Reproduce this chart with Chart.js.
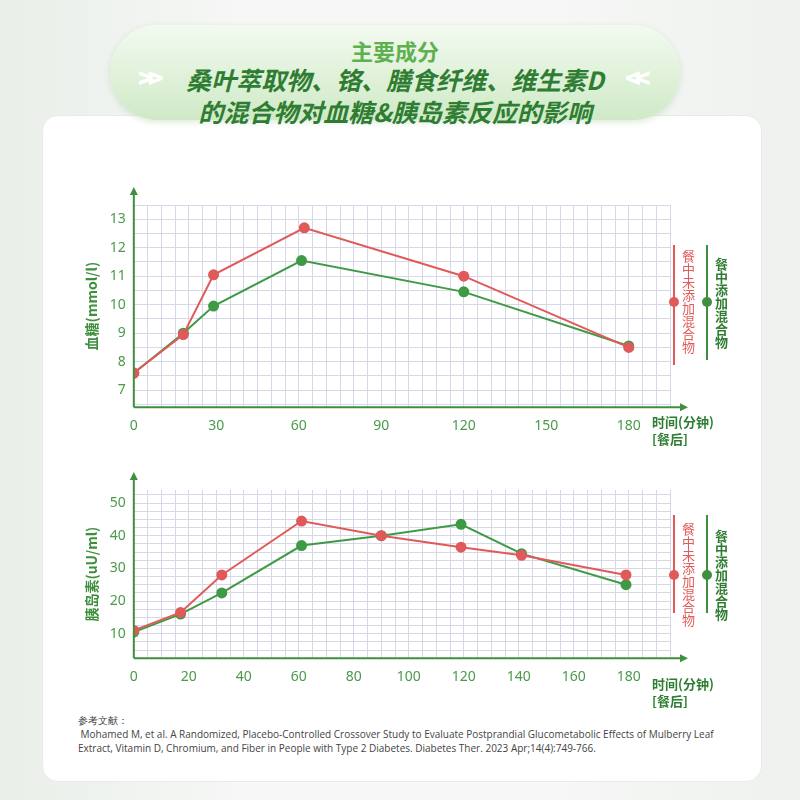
<!DOCTYPE html>
<html><head><meta charset="utf-8">
<script src="https://cdn.jsdelivr.net/npm/chart.js@4"></script>
<style>
body{margin:0;width:800px;height:800px;overflow:hidden;font-family:"Noto Sans CJK SC","Noto Sans",sans-serif;
 background:linear-gradient(90deg,#e9efe9 0%,#f6f7f6 30%,#f6f7f6 70%,#eef1ee 100%);position:relative}
.card{position:absolute;left:42px;top:115px;width:718px;height:665px;background:#fff;border-radius:16px;border:1px solid #e8ece8}
.head{position:absolute;left:110px;top:25px;width:570px;height:95px;border-radius:48px;
 background:linear-gradient(180deg,#f3faf0 0%,#cfeac6 100%);box-shadow:0 2px 6px rgba(120,170,110,.25);text-align:center}
.head .t1{color:#5fb14f;font-size:22px;font-weight:700;margin-top:12px;line-height:26px}
.head .t2{color:#2e7d32;font-size:25px;font-weight:700;font-style:italic;line-height:32px}
.chev{position:absolute;top:58px;color:#fff;font-size:26px;font-weight:900;letter-spacing:-6px}
canvas{position:absolute}
.leg{position:absolute;writing-mode:vertical-rl;font-size:13px;line-height:14px}
.bar{position:absolute;width:2px}
.dot{position:absolute;width:10px;height:10px;border-radius:5px}
.xt{position:absolute;color:#2e7d32;font-size:13px;font-weight:700;line-height:17px}
.ref{position:absolute;left:78px;top:713px;width:660px;font-size:10px;color:#444;line-height:14px;font-family:"Open Sans",sans-serif}
</style></head><body>
<div class="card"></div>
<div class="head"><div class="t1">主要成分</div><div class="t2">桑叶萃取物、铬、膳食纤维、维生素D<br>的混合物对血糖&amp;胰岛素反应的影响</div></div>
<div class="chev" style="left:138px">&gt;&gt;</div><div class="chev" style="left:625px">&lt;&lt;</div>
<canvas id="c1"></canvas><canvas id="c2"></canvas>
<div class="xt" style="left:652px;top:413px">时间(分钟)<br>[餐后]</div>
<div class="xt" style="left:652px;top:675px">时间(分钟)<br>[餐后]</div>

<div class="bar" style="left:673px;top:245px;height:120px;background:#e05a5a"></div>
<div class="dot" style="left:669px;top:297px;background:#e05a5a"></div>
<div class="leg" style="left:681px;top:250px;color:#e05a5a">餐中未添加混合物</div>
<div class="bar" style="left:706px;top:245px;height:115px;background:#3f8f3f"></div>
<div class="dot" style="left:702px;top:297px;background:#3f8f3f"></div>
<div class="leg" style="left:714px;top:258px;color:#2e7d32;font-weight:700">餐中添加混合物</div>

<div class="bar" style="left:673px;top:515px;height:98px;background:#e05a5a"></div>
<div class="dot" style="left:669px;top:570px;background:#e05a5a"></div>
<div class="leg" style="left:681px;top:523px;color:#e05a5a">餐中未添加混合物</div>
<div class="bar" style="left:706px;top:515px;height:98px;background:#3f8f3f"></div>
<div class="dot" style="left:702px;top:570px;background:#3f8f3f"></div>
<div class="leg" style="left:714px;top:530px;color:#2e7d32;font-weight:700">餐中添加混合物</div>

<div class="ref">参考文献：<br>&nbsp;Mohamed M, et al. A Randomized, Placebo-Controlled Crossover Study to Evaluate Postprandial Glucometabolic Effects of Mulberry Leaf Extract, Vitamin D, Chromium, and Fiber in People with Type 2 Diabetes. Diabetes Ther. 2023 Apr;14(4):749-766.</div>
<script>
// blood glucose
var glucoseRedX = [0, 18, 29, 62, 120, 180];
var glucoseRed = [7.6, 8.95, 11.05, 12.7, 11.0, 8.5];
var glucoseGreenX = [0, 18, 29, 61, 120, 180];
var glucoseGreen = [7.6, 9.0, 9.95, 11.55, 10.45, 8.55];
var glucoseTicks = [7, 8, 9, 10, 11, 12, 13];
var glucoseXTicks = [0, 30, 60, 90, 120, 150, 180];
// insulin
var insulinRedX = [0, 17, 32, 61, 90, 119, 141, 179];
var insulinRed = [11, 16.5, 28, 44.5, 40, 36.5, 34, 28];
var insulinGreenX = [0, 17, 32, 61, 90, 119, 141, 179];
var insulinGreen = [10.5, 16, 22.5, 37, 40, 43.5, 34.5, 25];
var insulinTicks = [10, 20, 30, 40, 50];
var insulinXTicks = [0, 20, 40, 60, 80, 100, 120, 140, 160, 180];

var RED = '#e05a5a', GREEN = '#3f9a45', AX = '#3f8f3f', TXT = '#4a9a4a';

function pts(xs, ys) { return xs.map(function(x, i) { return {x: x, y: ys[i]}; }); }

var arrows = {
  id: 'arrows',
  afterDraw: function(ch) {
    var c = ch.ctx, a = ch.chartArea;
    c.save(); c.strokeStyle = AX; c.fillStyle = AX; c.lineWidth = 2;
    c.beginPath(); c.moveTo(a.left, a.bottom); c.lineTo(a.left, a.top - 12);
    c.moveTo(a.left, a.bottom); c.lineTo(a.right + 12, a.bottom); c.stroke();
    c.beginPath(); c.moveTo(a.left - 4, a.top - 10); c.lineTo(a.left, a.top - 18); c.lineTo(a.left + 4, a.top - 10); c.fill();
    c.beginPath(); c.moveTo(a.right + 10, a.bottom - 4); c.lineTo(a.right + 18, a.bottom); c.lineTo(a.right + 10, a.bottom + 4); c.fill();
    c.restore();
  }
};

function make(id, box, ds, xmin, xmax, ymin, ymax, ystep, yTicks, xTicks, title) {
  var el = document.getElementById(id);
  el.style.left = box[0] + 'px'; el.style.top = box[1] + 'px';
  el.style.width = box[2] + 'px'; el.style.height = box[3] + 'px';
  new Chart(el, {
    type: 'line',
    data: { datasets: ds.map(function(d) {
      return { data: d[0], borderColor: d[1], backgroundColor: d[1], borderWidth: 2,
        pointRadius: 4.5, pointHoverRadius: 4.5, tension: 0 };
    }) },
    options: {
      responsive: false, animation: false, devicePixelRatio: 1,
      layout: { padding: { top: 20, right: 22 } },
      plugins: { legend: { display: false }, tooltip: { enabled: false } },
      scales: {
        x: { type: 'linear', min: xmin, max: xmax,
          afterBuildTicks: function(s) { var t = []; for (var v = 0; v <= xmax; v += 5) t.push({value: v}); s.ticks = t; },
          grid: { color: '#d6d8e8', lineWidth: 1, drawTicks: false },
          border: { display: false },
          ticks: { autoSkip: false, maxRotation: 0, padding: 10, color: TXT, font: { size: 14, family: 'Noto Sans' },
            callback: function(v) { return xTicks.indexOf(v) >= 0 ? v : ''; } } },
        y: { min: ymin, max: ymax,
          afterBuildTicks: function(s) { var t = []; for (var v = Math.ceil(ymin / ystep) * ystep; v <= ymax + 1e-9; v += ystep) t.push({value: +v.toFixed(2)}); s.ticks = t; },
          grid: { color: '#d6d8e8', lineWidth: 1, drawTicks: false },
          border: { display: false },
          title: { display: true, text: title, color: AX, font: { size: 14, weight: 'bold', family: 'Noto Sans CJK SC' }, padding: 2 },
          ticks: { autoSkip: false, padding: 8, color: TXT, font: { size: 14, family: 'Noto Sans' },
            callback: function(v) { return yTicks.indexOf(v) >= 0 ? v : ''; } } }
      }
    },
    plugins: [arrows]
  });
}

make('c1', [81, 185, 611, 259], [[pts(glucoseRedX, glucoseRed), RED], [pts(glucoseGreenX, glucoseGreen), GREEN]],
  0, 195, 6.4, 13.5, 0.5, glucoseTicks, glucoseXTicks, '血糖(mmol/l)');
make('c2', [81, 470, 611, 225], [[pts(insulinRedX, insulinRed), RED], [pts(insulinGreenX, insulinGreen), GREEN]],
  0, 195, 2.5, 54, 2.5, insulinTicks, insulinXTicks, '胰岛素(uU/ml)');
</script>
</body></html>
